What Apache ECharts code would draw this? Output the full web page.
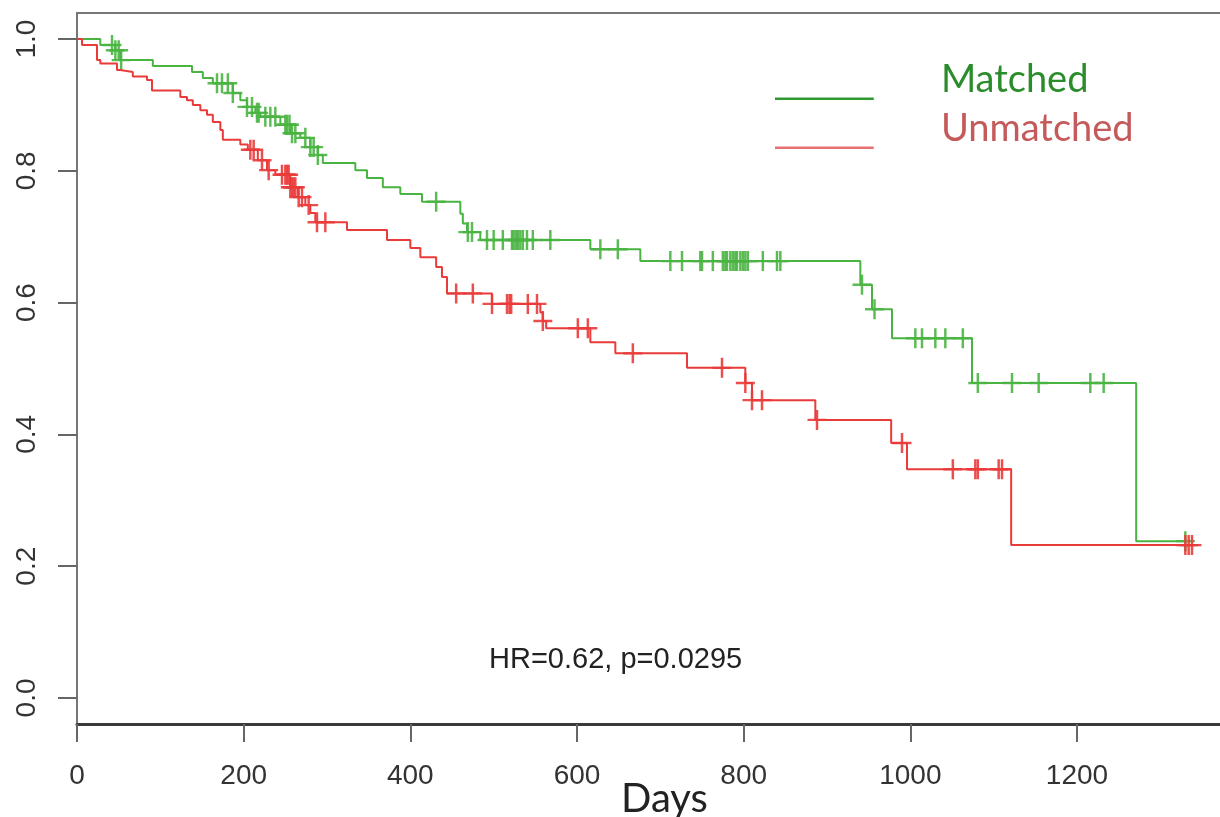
<!DOCTYPE html>
<html>
<head>
<meta charset="utf-8">
<script src="https://cdn.jsdelivr.net/npm/echarts@6/dist/echarts.min.js"></script>
<style>
  html, body { margin: 0; padding: 0; background: #ffffff; }
  #chart { width: 1220px; height: 817px; }
</style>
</head>
<body>
<div id="chart"></div>
<script>
const seriesNames = ['Matched', 'Unmatched'];

const matchedTimes = [0, 28, 46, 52, 91, 138, 151, 163, 187, 196, 204, 214, 220, 244, 256, 268, 280, 289, 295, 334, 348, 367, 388, 414, 460, 463, 468, 484, 616, 676, 940, 954, 978, 1074, 1271];
const matchedSurv  = [1.0, 0.991, 0.983, 0.968, 0.959, 0.950, 0.941, 0.933, 0.918, 0.907, 0.897, 0.888, 0.882, 0.870, 0.857, 0.850, 0.836, 0.824, 0.812, 0.801, 0.789, 0.775, 0.765, 0.753, 0.735, 0.720, 0.707, 0.695, 0.681, 0.663, 0.627, 0.590, 0.546, 0.478, 0.238];
const matchedLastFollowUp = 1330;
const matchedCensored = [42, 46, 50, 53, 168, 174, 181, 187, 204, 210, 216, 218, 226, 232, 238, 250, 252, 255, 258, 262, 274, 280, 284, 289, 431, 469, 474, 492, 500, 511, 522, 524, 527, 529, 532, 535, 540, 547, 568, 628, 649, 712, 726, 748, 750, 763, 775, 778, 780, 784, 787, 790, 792, 796, 799, 802, 805, 823, 840, 844, 942, 957, 1006, 1014, 1030, 1042, 1063, 1081, 1122, 1154, 1216, 1232, 1330];

const unmatchedTimes = [0, 6, 24, 28, 48, 52, 67, 84, 90, 124, 132, 139, 148, 156, 163, 172, 175, 196, 205, 217, 228, 238, 256, 265, 274, 280, 286, 324, 372, 400, 412, 431, 438, 444, 498, 556, 559, 563, 616, 646, 732, 802, 810, 886, 977, 996, 1121];
const unmatchedSurv  = [1.0, 0.991, 0.968, 0.963, 0.953, 0.950, 0.943, 0.938, 0.922, 0.912, 0.907, 0.900, 0.892, 0.885, 0.874, 0.862, 0.847, 0.840, 0.832, 0.816, 0.801, 0.794, 0.775, 0.760, 0.748, 0.736, 0.722, 0.710, 0.695, 0.683, 0.669, 0.654, 0.639, 0.614, 0.598, 0.585, 0.572, 0.561, 0.540, 0.523, 0.501, 0.478, 0.452, 0.422, 0.387, 0.347, 0.232];
const unmatchedLastFollowUp = 1338;
const unmatchedCensored = [208, 212, 222, 230, 246, 250, 252, 254, 256, 258, 260, 262, 266, 270, 278, 288, 298, 455, 475, 498, 516, 519, 521, 541, 552, 559, 601, 613, 667, 774, 802, 810, 822, 888, 990, 1051, 1078, 1081, 1106, 1110, 1330, 1334, 1338];

const xTicks = [0, 200, 400, 600, 800, 1000, 1200];
const yTicks = [0, 0.2, 0.4, 0.6, 0.8, 1.0];
const annotationText = 'HR=0.62, p=0.0295';
const xAxisTitle = 'Days';

// ---- helpers ----
function stepPoints(times, surv, last) {
  const pts = times.map((t, i) => [t, surv[i]]);
  pts.push([last, surv[surv.length - 1]]);
  return pts;
}
function survAt(times, surv, t) {
  let s = surv[0];
  for (let i = 0; i < times.length; i++) { if (times[i] <= t) s = surv[i]; else break; }
  return s;
}
function censorPoints(times, surv, cens) {
  return cens.map(t => [t, survAt(times, surv, t)]);
}

const GREEN = '#4ab443';
const RED = '#ea3b3b';
const plus = 'path://M4.35,0H5.65V10H4.35Z M0,4.4H10V5.6H0Z';
const legendIcon = 'path://M0,38H100V40.5H0Z M0,0H0.01V0.01H0Z';

const chart = echarts.init(document.getElementById('chart'), null, { renderer: 'canvas' });
chart.setOption({
  animation: false,
  backgroundColor: '#ffffff',
  grid: { left: 77, top: 13, right: 0, bottom: 93 },
  title: [
    { text: annotationText, left: 484, top: 640,
      textStyle: { fontFamily: 'Liberation Sans, Arial, sans-serif', fontSize: 29, fontWeight: 'normal', color: '#222' } },
    { text: xAxisTitle, left: 616, top: 774,
      textStyle: { fontFamily: 'Lato, Open Sans, sans-serif', fontSize: 40, fontWeight: 'normal', color: '#222' } }
  ],
  legend: {
    orient: 'vertical', left: 775, top: 60, padding: 0,
    itemWidth: 103, itemHeight: 40, itemGap: 9,
    icon: legendIcon,
    selectedMode: false,
    textStyle: { fontFamily: 'Lato, Open Sans, sans-serif', fontSize: 38, lineHeight: 40, padding: [0, 0, 0, 60] },
    data: [
      { name: seriesNames[0], itemStyle: { color: '#2f9a2f' }, textStyle: { color: '#2a8c2a' } },
      { name: seriesNames[1], itemStyle: { color: '#e57373' }, textStyle: { color: '#c45a5a' } }
    ]
  },
  xAxis: [
    {
      type: 'value', min: 0, max: 1371.6, position: 'bottom',
      splitLine: { show: false },
      axisLine: { show: true, onZero: false, lineStyle: { color: '#3a3a3a', width: 3 } },
      axisTick: { show: true, length: 18, customValues: xTicks, lineStyle: { color: '#666', width: 2 } },
      axisLabel: { customValues: xTicks, margin: 36, fontSize: 28, lineHeight: 32,
        fontFamily: 'Liberation Sans, Arial, sans-serif', color: '#333',
        formatter: v => String(v) }
    },
    {
      type: 'value', min: 0, max: 1371.6, position: 'top',
      splitLine: { show: false },
      axisLine: { show: true, onZero: false, lineStyle: { color: '#777', width: 2 } },
      axisTick: { show: false }, axisLabel: { show: false }
    }
  ],
  yAxis: {
    type: 'value', min: -0.0395, max: 1.0395,
    splitLine: { show: false },
    axisLine: { show: true, onZero: false, lineStyle: { color: '#777', width: 2 } },
    axisTick: { show: true, length: 19, customValues: yTicks, lineStyle: { color: '#666', width: 2 } },
    axisLabel: { customValues: yTicks, rotate: 90, margin: 36, fontSize: 28,
      fontFamily: 'Liberation Sans, Arial, sans-serif', color: '#333',
      formatter: v => v.toFixed(1) }
  },
  series: [
    { name: seriesNames[0], type: 'line', step: 'end', showSymbol: false, symbol: 'none',
      data: stepPoints(matchedTimes, matchedSurv, matchedLastFollowUp),
      lineStyle: { color: GREEN, width: 2 }, itemStyle: { color: GREEN }, z: 2 },
    { name: seriesNames[0] + ' censored', type: 'scatter', symbol: plus, symbolSize: [19, 20],
      data: censorPoints(matchedTimes, matchedSurv, matchedCensored),
      itemStyle: { color: GREEN, opacity: 0.9 }, z: 2 },
    { name: seriesNames[1], type: 'line', step: 'end', showSymbol: false, symbol: 'none',
      data: stepPoints(unmatchedTimes, unmatchedSurv, unmatchedLastFollowUp),
      lineStyle: { color: RED, width: 2 }, itemStyle: { color: RED }, z: 3 },
    { name: seriesNames[1] + ' censored', type: 'scatter', symbol: plus, symbolSize: [19, 20],
      data: censorPoints(unmatchedTimes, unmatchedSurv, unmatchedCensored),
      itemStyle: { color: RED, opacity: 0.9 }, z: 3 }
  ]
});
</script>
</body>
</html>
